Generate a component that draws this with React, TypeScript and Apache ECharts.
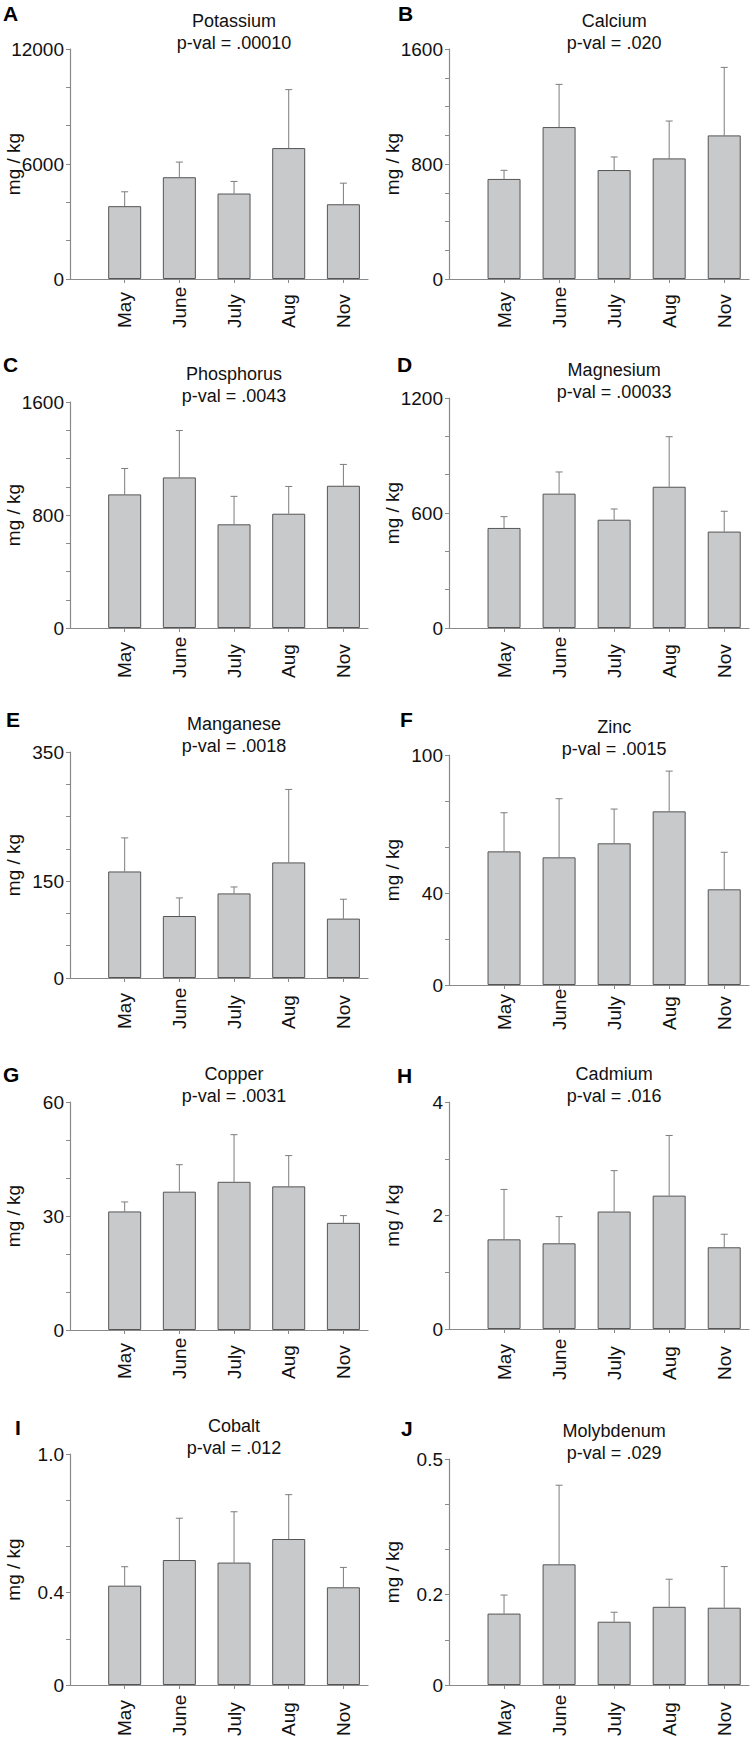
import React, { useEffect, useRef } from "react";
import * as echarts from "echarts";

const MONTHS = ["May", "June", "July", "Aug", "Nov"];

const ELEMENTS = ["Potassium", "Calcium", "Phosphorus", "Magnesium", "Manganese", "Zinc", "Copper", "Cadmium", "Cobalt", "Molybdenum"];
const P_VALUES = [".00010", ".020", ".0043", ".00033", ".0018", ".0015", ".0031", ".016", ".012", ".029"];
const LETTERS = ["A", "B", "C", "D", "E", "F", "G", "H", "I", "J"];

const POTASSIUM_MEAN = [3800, 5310, 4460, 6830, 3900];
const POTASSIUM_SD = [750, 790, 630, 3050, 1100];
const CALCIUM_MEAN = [696, 1057, 758, 839, 999];
const CALCIUM_SD = [60, 297, 91, 260, 473];
const PHOSPHORUS_MEAN = [946, 1066, 734, 809, 1007];
const PHOSPHORUS_SD = [183, 332, 198, 193, 151];
const MAGNESIUM_MEAN = [522, 701, 565, 737, 503];
const MAGNESIUM_SD = [59, 113, 56, 261, 106];
const MANGANESE_MEAN = [165, 96, 131, 179, 92];
const MANGANESE_SD = [52, 28, 10, 113, 30];
const ZINC_MEAN = [58.1, 55.5, 61.6, 75.5, 41.6];
const ZINC_SD = [16.8, 25.5, 14.9, 17.5, 16.1];
const COPPER_MEAN = [31.2, 36.4, 39.0, 37.8, 28.2];
const COPPER_SD = [2.5, 7.1, 12.4, 8.1, 1.9];
const CADMIUM_MEAN = [1.58, 1.51, 2.07, 2.35, 1.44];
const CADMIUM_SD = [0.88, 0.47, 0.72, 1.06, 0.23];
const COBALT_MEAN = [0.43, 0.541, 0.53, 0.632, 0.423];
const COBALT_SD = [0.082, 0.181, 0.22, 0.192, 0.086];
const MOLYBDENUM_MEAN = [0.158, 0.267, 0.14, 0.173, 0.171];
const MOLYBDENUM_SD = [0.041, 0.175, 0.021, 0.061, 0.091];

const MEANS = [POTASSIUM_MEAN, CALCIUM_MEAN, PHOSPHORUS_MEAN, MAGNESIUM_MEAN, MANGANESE_MEAN, ZINC_MEAN, COPPER_MEAN, CADMIUM_MEAN, COBALT_MEAN, MOLYBDENUM_MEAN];
const SDS = [POTASSIUM_SD, CALCIUM_SD, PHOSPHORUS_SD, MAGNESIUM_SD, MANGANESE_SD, ZINC_SD, COPPER_SD, CADMIUM_SD, COBALT_SD, MOLYBDENUM_SD];

const Y_MAX = [12000, 1600, 1600, 1200, 350, 100, 60, 4, 1.0, 0.5];
const Y_TICKS = [
  [0, 2000, 4000, 6000, 8000, 10000, 12000],
  [0, 200, 400, 600, 800, 1000, 1200, 1400, 1600],
  [0, 200, 400, 600, 800, 1000, 1200, 1400, 1600],
  [0, 200, 400, 600, 800, 1000, 1200],
  [0, 50, 100, 150, 200, 250, 300, 350],
  [0, 20, 40, 60, 80, 100],
  [0, 10, 20, 30, 40, 50, 60],
  [0, 1, 2, 3, 4],
  [0, 0.2, 0.4, 0.6, 0.8, 1.0],
  [0, 0.1, 0.2, 0.3, 0.4, 0.5],
];
const Y_LABELS = [
  [0, 6000, 12000],
  [0, 800, 1600],
  [0, 800, 1600],
  [0, 600, 1200],
  [0, 150, 350],
  [0, 40, 100],
  [0, 30, 60],
  [0, 2, 4],
  [0, 0.4, 1.0],
  [0, 0.2, 0.5],
];
const Y_LABEL_TEXT = [
  ["0", "6000", "12000"],
  ["0", "800", "1600"],
  ["0", "800", "1600"],
  ["0", "600", "1200"],
  ["0", "150", "350"],
  ["0", "40", "100"],
  ["0", "30", "60"],
  ["0", "2", "4"],
  ["0", "0.4", "1.0"],
  ["0", "0.2", "0.5"],
];

// layout (pixels)
const GRID_LEFT = [70, 449, 70, 449, 70, 449, 70, 449, 70, 449];
const GRID_WIDTH = [298, 300, 298, 300, 298, 300, 298, 300, 298, 300];
const GRID_TOP = [49, 49, 402, 398, 752, 755, 1102, 1102, 1454, 1459];
const GRID_HEIGHT = [230, 230, 226, 230, 226, 230, 228, 227, 231, 226];
const MONTH_MARGIN = [49, 49, 50, 50, 51, 45, 49, 51, 51, 51];
const LETTER_POS = [
  [3, 3], [398, 3], [3, 354], [397, 354], [6, 709],
  [400, 709], [3, 1064], [397, 1065], [15, 1417], [401, 1418],
];

const FONT = "Liberation Sans, Arial, Helvetica, sans-serif";
const AXIS_COLOR = "#8a8a8a";
const TEXT_COLOR = "#111111";
const LABEL_SIZE = 19;
const RICH = { t: { fontSize: LABEL_SIZE, fontFamily: FONT, color: TEXT_COLOR } };

export default function App() {
  const ref = useRef<HTMLDivElement>(null);

  useEffect(() => {
    if (!ref.current) return;
    const chart = echarts.init(ref.current, null, { renderer: "svg" });

    const grid: any[] = [];
    const xAxis: any[] = [];
    const yAxis: any[] = [];
    const series: any[] = [];
    const graphic: any[] = [];

    for (let i = 0; i < 10; i++) {
      grid.push({
        left: GRID_LEFT[i],
        top: GRID_TOP[i],
        width: GRID_WIDTH[i],
        height: GRID_HEIGHT[i],
        containLabel: false,
        outerBoundsMode: "none",
      });
      xAxis.push({
        type: "value",
        gridIndex: i,
        min: -1,
        max: 4.45,
        splitLine: { show: false },
        axisLine: { show: true, onZero: false, lineStyle: { color: AXIS_COLOR, width: 1.2 } },
        axisTick: {
          show: true,
          customValues: [0, 1, 2, 3, 4],
          length: 4,
          lineStyle: { color: AXIS_COLOR, width: 1 },
        },
        axisLabel: {
          show: true,
          customValues: [0, 1, 2, 3, 4],
          formatter: (v: number) => `{t|${MONTHS[Math.round(v)] ?? ""}}`,
          rich: RICH,
          rotate: 90,
          align: "left",
          verticalAlign: "middle",
          margin: MONTH_MARGIN[i],
          fontSize: LABEL_SIZE,
          color: TEXT_COLOR,
          fontFamily: FONT,
          hideOverlap: false,
        },
      });
      const labels = Y_LABELS[i];
      const texts = Y_LABEL_TEXT[i];
      yAxis.push({
        type: "value",
        gridIndex: i,
        min: 0,
        max: Y_MAX[i],
        splitLine: { show: false },
        axisLine: { show: true, onZero: false, lineStyle: { color: AXIS_COLOR, width: 1.2 } },
        axisTick: {
          show: true,
          customValues: Y_TICKS[i],
          length: 4,
          lineStyle: { color: AXIS_COLOR, width: 1 },
        },
        axisLabel: {
          show: true,
          customValues: labels,
          formatter: (v: number) => {
            const idx = labels.findIndex((l) => Math.abs(l - v) < 1e-9);
            return idx >= 0 ? `{t|${texts[idx]}}` : "";
          },
          rich: RICH,
          margin: 6,
          fontSize: LABEL_SIZE,
          color: TEXT_COLOR,
          fontFamily: FONT,
        },
        name: "{t|mg / kg}",
        nameLocation: "middle",
        nameGap: 47,
        nameMoveOverlap: false,
        nameTextStyle: { fontSize: LABEL_SIZE, color: TEXT_COLOR, fontFamily: FONT, rich: RICH },
      });

      const mean = MEANS[i];
      const sd = SDS[i];
      series.push({
        type: "bar",
        xAxisIndex: i,
        yAxisIndex: i,
        barWidth: 33,
        data: mean.map((m, k) => [k, m]),
        itemStyle: { color: "#c8c9cb", borderColor: "#555555", borderWidth: 1 },
        silent: true,
      });
      series.push({
        type: "custom",
        xAxisIndex: i,
        yAxisIndex: i,
        data: mean.map((m, k) => [k, m, m + sd[k]]),
        renderItem: (_params: any, api: any) => {
          const x = api.value(0);
          const p0 = api.coord([x, api.value(1)]);
          const p1 = api.coord([x, api.value(2)]);
          const st = { stroke: "#7d7d7d", lineWidth: 1 };
          return {
            type: "group",
            children: [
              { type: "line", shape: { x1: p0[0], y1: p0[1], x2: p1[0], y2: p1[1] }, style: st },
              { type: "line", shape: { x1: p1[0] - 3.5, y1: p1[1], x2: p1[0] + 3.5, y2: p1[1] }, style: st },
            ],
          };
        },
        silent: true,
      });

      const cx = GRID_LEFT[i] + (GRID_WIDTH[i] / 5.45) * 3;
      graphic.push({
        type: "text",
        x: cx,
        y: GRID_TOP[i] - 39,
        style: {
          text: `${ELEMENTS[i]}\np-val = ${P_VALUES[i]}`,
          align: "center",
          verticalAlign: "top",
          lineHeight: 22,
          fontSize: 18,
          fontFamily: FONT,
          fill: TEXT_COLOR,
        },
      });
      graphic.push({
        type: "text",
        x: LETTER_POS[i][0],
        y: LETTER_POS[i][1],
        style: {
          text: LETTERS[i],
          align: "left",
          verticalAlign: "top",
          fontSize: 21,
          fontWeight: "bold",
          fontFamily: FONT,
          fill: "#000000",
        },
      });
    }

    chart.setOption({
      animation: false,
      backgroundColor: "#ffffff",
      textStyle: { fontFamily: FONT, fontSize: LABEL_SIZE },
      grid,
      xAxis,
      yAxis,
      series,
      graphic,
    });

    return () => chart.dispose();
  }, []);

  return (
    <div
      ref={ref}
      style={{ position: "absolute", left: 0, top: 0, width: 754, height: 1741, background: "#fff" }}
    />
  );
}
